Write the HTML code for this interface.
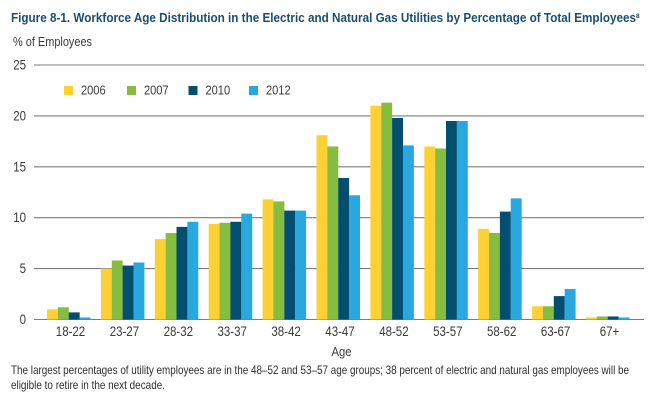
<!DOCTYPE html>
<html lang="en">
<head>
<meta charset="utf-8">
<title>Workforce Age Distribution</title>
<style>
html,body{margin:0;padding:0;background:#fff;}
svg{display:block;font-family:"Liberation Sans",sans-serif;}
</style>
</head>
<body>
<svg id="chart" width="657" height="407" viewBox="0 0 657 407" xmlns="http://www.w3.org/2000/svg">
<rect width="657" height="407" fill="#ffffff"/>
<text x="11" y="22" font-size="13" font-weight="bold" fill="#1b4f6f" textLength="625" lengthAdjust="spacingAndGlyphs">Figure 8-1. Workforce Age Distribution in the Electric and Natural Gas Utilities by Percentage of Total Employees</text>
<text x="636" y="18" font-size="6.5" font-weight="bold" fill="#1b4f6f">8</text>
<text x="13" y="46" font-size="13" fill="#3a3a3a" textLength="79" lengthAdjust="spacingAndGlyphs">% of Employees</text>
<g id="grid"></g>
<g id="bars"></g>
<g id="xlabels"></g>
<g id="legend"></g>
<text x="341.5" y="356" font-size="13" fill="#3a3a3a" text-anchor="middle" textLength="20" lengthAdjust="spacingAndGlyphs">Age</text>
<text x="11" y="374" font-size="12" fill="#2e2e2e" textLength="618" lengthAdjust="spacingAndGlyphs">The largest percentages of utility employees are in the 48–52 and 53–57 age groups; 38 percent of electric and natural gas employees will be</text>
<text x="11" y="389" font-size="12" fill="#2e2e2e" textLength="154" lengthAdjust="spacingAndGlyphs">eligible to retire in the next decade.</text>
</svg>
<script>
const categories = ['18-22','23-27','28-32','33-37','38-42','43-47','48-52','53-57','58-62','63-67','67+'];
const seriesNames = ['2006','2007','2010','2012'];
const values2006 = [1.0,5.0,7.9,9.4,11.8,18.1,21.0,17.0,8.9,1.3,0.2];
const values2007 = [1.2,5.8,8.5,9.5,11.6,17.0,21.3,16.8,8.5,1.3,0.3];
const values2010 = [0.7,5.3,9.1,9.6,10.7,13.9,19.8,19.5,10.6,2.3,0.3];
const values2012 = [0.2,5.6,9.6,10.4,10.7,12.2,17.1,19.5,11.9,3.0,0.2];
const yTicks = [0,5,10,15,20,25];

const allSeries = [values2006, values2007, values2010, values2012];
const colors = ['#fdd133','#86bc40','#044f70','#29a8e0'];
const legendSwatchX = [64,127,188.5,249];
const svgNS = 'http://www.w3.org/2000/svg';
const yScale = v => 319.5 - v * 10.18;
const xGroup = i => 47 + i * 53.9;
const barW = 10.85;

function make(tag, attrs, parent) {
  const el = document.createElementNS(svgNS, tag);
  for (const k in attrs) el.setAttribute(k, attrs[k]);
  parent.appendChild(el);
  return el;
}
function condense(el, factor) {
  el.setAttribute('textLength', (el.getComputedTextLength() * factor).toFixed(1));
  el.setAttribute('lengthAdjust', 'spacingAndGlyphs');
}

const grid = document.getElementById('grid');
yTicks.forEach(t => {
  const line = make('line', {x1:34, x2:644, y1:yScale(t), y2:yScale(t), stroke:'#7c7c7c', 'stroke-width':1.1}, grid);
  
  
  const label = make('text', {x:26, y:yScale(t) + 4.5, 'font-size':13.5, fill:'#3a3a3a', 'text-anchor':'end'}, grid);
  label.textContent = t;
  
  
  condense(label, 0.85);
});

const bars = document.getElementById('bars');
allSeries.forEach((vals, s) => {
  vals.forEach((v, i) => {
    const y = yScale(v);
    const r = make('rect', {x:xGroup(i) + s * barW, y:y, width:barW + 0.1, height:yScale(0) - y, fill:colors[s]}, bars);
    
    
  });
});

const xlabels = document.getElementById('xlabels');
categories.forEach((c, i) => {
  const t = make('text', {x:xGroup(i) + 23.5, y:336, 'font-size':13.5, fill:'#3a3a3a', 'text-anchor':'middle'}, xlabels);
  t.textContent = c;
  
  
  condense(t, 0.85);
});

const legend = document.getElementById('legend');
seriesNames.forEach((n, s) => {
  const sw = make('rect', {x:legendSwatchX[s], y:86, width:9, height:9, fill:colors[s]}, legend);
  
  
  const t = make('text', {x:legendSwatchX[s] + 17, y:94.5, 'font-size':13, fill:'#3a3a3a'}, legend);
  t.textContent = n;
  
  
  condense(t, 0.85);
});
</script>
</body>
</html>
